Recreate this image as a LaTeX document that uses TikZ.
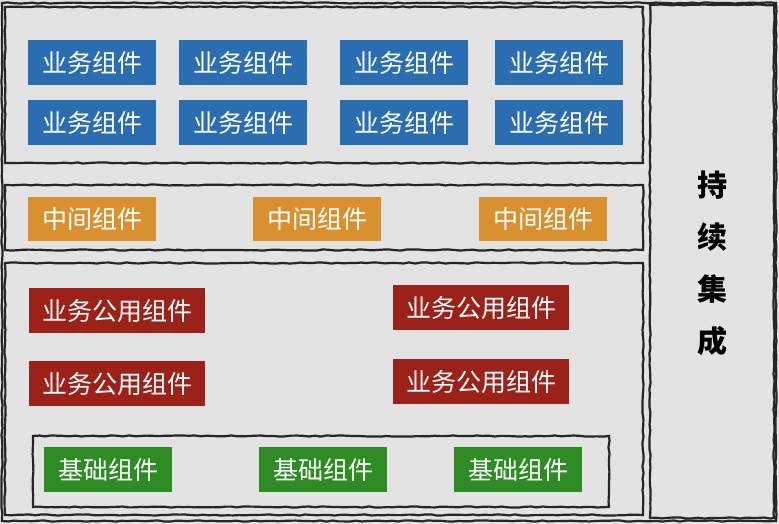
\documentclass[tikz,border=0pt]{standalone}
\usepackage{fontspec}
\newfontfamily\cjk{Noto Sans CJK SC}
\usetikzlibrary{decorations.pathmorphing}
\definecolor{bgray}{HTML}{E3E3E3}
\definecolor{bizblue}{HTML}{2A6DB0}
\definecolor{midorange}{HTML}{D9912F}
\definecolor{comred}{HTML}{9B2119}
\definecolor{basegreen}{HTML}{2F8C25}
\tikzset{
  panel/.style = {draw = black!85, line width = 2.2pt, decorate,
    decoration = {random steps, segment length = 6pt, amplitude = .6pt}},
  comp/.style = {anchor = north west, inner sep = 0pt, text = white,
    font = \cjk\fontsize{25}{28}\selectfont},
  bizbox/.style = {comp, fill = bizblue, minimum width = 128pt, minimum height = 45pt},
  midbox/.style = {comp, fill = midorange, minimum width = 128pt, minimum height = 44pt},
  combox/.style = {comp, fill = comred, minimum width = 176pt, minimum height = 45pt},
  basebox/.style = {comp, fill = basegreen, minimum width = 128pt, minimum height = 45pt}
}
\begin{document}
\begin{tikzpicture}[x = 1pt, y = -1pt]
% Background
\fill[bgray] (0,0) rectangle (779,524);
\useasboundingbox (0,0) rectangle (779,524);
% Panels
\draw[panel] (2,3) rectangle (776,521);
\draw[panel] (5,7) rectangle (643,163);
\draw[panel] (5,185) rectangle (643,250);
\draw[panel] (5,263) rectangle (643,515);
\draw[panel] (650,5) rectangle (774,518);
\draw[panel] (33,436) rectangle (609,507);
% Business components
\node[bizbox] (b1) at (28,40) {业务组件};
\node[bizbox] (b2) at (179,40) {业务组件};
\node[bizbox] (b3) at (340,40) {业务组件};
\node[bizbox] (b4) at (495,40) {业务组件};
\node[bizbox] (b5) at (28,100) {业务组件};
\node[bizbox] (b6) at (179,100) {业务组件};
\node[bizbox] (b7) at (340,100) {业务组件};
\node[bizbox] (b8) at (495,100) {业务组件};
% Middle components
\node[midbox] (m1) at (28,197) {中间组件};
\node[midbox] (m2) at (253,197) {中间组件};
\node[midbox] (m3) at (479,197) {中间组件};
% Common components
\node[combox] (c1) at (29,288) {业务公用组件};
\node[combox] (c2) at (393,285) {业务公用组件};
\node[combox] (c3) at (29,361) {业务公用组件};
\node[combox] (c4) at (393,359) {业务公用组件};
% Base components
\node[basebox] (g1) at (44,447) {基础组件};
\node[basebox] (g2) at (259,447) {基础组件};
\node[basebox] (g3) at (454,447) {基础组件};
% Continuous integration
\node[font = \cjk\bfseries\fontsize{30}{52}\selectfont, align = center] (ci) at (712,263) {持\\续\\集\\成};
\end{tikzpicture}
\end{document}
